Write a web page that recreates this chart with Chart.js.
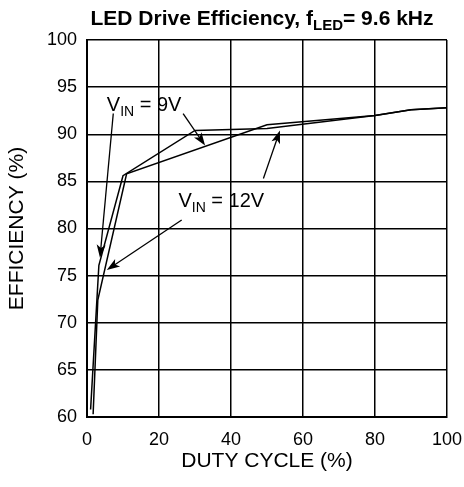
<!DOCTYPE html>
<html>
<head>
<meta charset="utf-8">
<script src="https://cdn.jsdelivr.net/npm/chart.js@4"></script>
<style>
  body { margin: 0; background: #fff; }
</style>
</head>
<body>
<canvas id="myChart" width="464" height="487"></canvas>
<script>
// Values
const dutyVin9 = [1, 3.3, 10, 30, 50, 80, 90, 100];
const effVin9 = [60.8, 76.1, 85.6, 90.4, 90.6, 92.0, 92.6, 92.8];
const dutyVin12 = [1.7, 3, 11, 50, 80, 90, 100];
const effVin12 = [60.3, 72.4, 85.8, 91.0, 92.0, 92.6, 92.8];

const xTicks = [0, 20, 40, 60, 80, 100];
const yTicks = [60, 65, 70, 75, 80, 85, 90, 95, 100];

// Callout labels and their arrows (in data units)
const labelVin9 = { x: 5.5, y: 92.5, value: '9V' };
const labelVin12 = { x: 25.4, y: 82.3, value: '12V' };
const arrowsVin9 = [[7.3, 92.2, 3.6, 76.9], [26.7, 92.2, 32.8, 88.8]];
const arrowsVin12 = [[26.3, 80.9, 5.5, 75.6], [49.0, 85.3, 53.6, 90.4]];

function toPoints(xs, ys) {
    return xs.map((x, i) => ({ x: x, y: ys[i] }));
}

// Draw "V" with subscript "IN" followed by " = ..."
function drawVin(ctx, x, y, value) {
    ctx.fillStyle = '#000';
    ctx.textBaseline = 'alphabetic';
    ctx.textAlign = 'left';
    ctx.font = '20px "Liberation Sans", Arial, sans-serif';
    ctx.fillText('V', x, y);
    let w = ctx.measureText('V').width;
    ctx.font = '14px "Liberation Sans", Arial, sans-serif';
    ctx.fillText('IN', x + w, y + 5);
    w += ctx.measureText('IN').width;
    ctx.font = '20px "Liberation Sans", Arial, sans-serif';
    ctx.fillText(' = ' + value, x + w, y);
}

function drawArrow(ctx, x1, y1, x2, y2) {
    const ang = Math.atan2(y2 - y1, x2 - x1);
    const len = 13, half = 4.5;
    ctx.strokeStyle = '#000';
    ctx.lineWidth = 1.3;
    ctx.beginPath();
    ctx.moveTo(x1, y1);
    ctx.lineTo(x2 - Math.cos(ang) * len * 0.7, y2 - Math.sin(ang) * len * 0.7);
    ctx.stroke();
    ctx.save();
    ctx.translate(x2, y2);
    ctx.rotate(ang);
    ctx.fillStyle = '#000';
    ctx.beginPath();
    ctx.moveTo(0, 0);
    ctx.lineTo(-len, -half);
    ctx.lineTo(-len * 0.75, 0);
    ctx.lineTo(-len, half);
    ctx.closePath();
    ctx.fill();
    ctx.restore();
}

const overlayPlugin = {
    id: 'overlay',
    afterDraw(chart) {
        const ctx = chart.ctx;
        const xs = chart.scales.x, ys = chart.scales.y;
        ctx.save();

        // title with subscript
        const big = 'bold 21px "Liberation Sans", Arial, sans-serif';
        const small = 'bold 15px "Liberation Sans", Arial, sans-serif';
        const partA = 'LED Drive Efficiency, f', partB = 'LED', partC = '= 9.6 kHz';
        ctx.font = big;
        const wA = ctx.measureText(partA).width, wC = ctx.measureText(partC).width;
        ctx.font = small;
        const wB = ctx.measureText(partB).width;
        let tx = 262 - (wA + wB + wC) / 2;
        const ty = 25;
        ctx.fillStyle = '#000';
        ctx.textAlign = 'left';
        ctx.textBaseline = 'alphabetic';
        ctx.font = big;
        ctx.fillText(partA, tx, ty);
        ctx.font = small;
        ctx.fillText(partB, tx + wA, ty + 5);
        ctx.font = big;
        ctx.fillText(partC, tx + wA + wB, ty);

        // callouts
        drawVin(ctx, xs.getPixelForValue(labelVin9.x), ys.getPixelForValue(labelVin9.y), labelVin9.value);
        drawVin(ctx, xs.getPixelForValue(labelVin12.x), ys.getPixelForValue(labelVin12.y), labelVin12.value);
        arrowsVin9.concat(arrowsVin12).forEach(a => {
            drawArrow(ctx, xs.getPixelForValue(a[0]), ys.getPixelForValue(a[1]),
                xs.getPixelForValue(a[2]), ys.getPixelForValue(a[3]));
        });
        ctx.restore();
    }
};

const tickFont = { family: '"Liberation Sans", Arial, sans-serif', size: 18 };
const titleFont = { family: '"Liberation Sans", Arial, sans-serif', size: 21 };

const ctx = document.getElementById('myChart').getContext('2d');
const chart = new Chart(ctx, {
    type: 'scatter',
    data: {
        datasets: [
            {
                label: 'VIN = 9V',
                data: toPoints(dutyVin9, effVin9),
                showLine: true,
                borderColor: '#000',
                borderWidth: 1.5,
                pointRadius: 0,
                tension: 0
            },
            {
                label: 'VIN = 12V',
                data: toPoints(dutyVin12, effVin12),
                showLine: true,
                borderColor: '#000',
                borderWidth: 1.5,
                pointRadius: 0,
                tension: 0
            }
        ]
    },
    options: {
        responsive: false,
        animation: false,
        layout: { padding: { top: 40, right: 17, left: 0, bottom: 0 } },
        plugins: {
            legend: { display: false },
            tooltip: { enabled: false },
            title: { display: false }
        },
        scales: {
            x: {
                type: 'linear',
                min: 0,
                max: 100,
                afterBuildTicks: scale => { scale.ticks = xTicks.map(v => ({ value: v })); },
                afterFit: scale => {
                    scale.height = 70;
                    scale.paddingRight = 0;
                    scale.paddingLeft = 0;
                },
                ticks: { color: '#000', font: tickFont, padding: 12, maxRotation: 0 },
                grid: { color: '#000', lineWidth: 1.5, drawTicks: false },
                border: { color: '#000', width: 2 },
                title: { display: true, text: 'DUTY CYCLE (%)', color: '#000', font: titleFont, padding: { top: 0, bottom: 13 } }
            },
            y: {
                min: 60,
                max: 100,
                afterBuildTicks: scale => { scale.ticks = yTicks.map(v => ({ value: v })); },
                afterFit: scale => {
                    scale.width = 87;
                    scale.paddingTop = 0;
                    scale.paddingBottom = 0;
                },
                ticks: { color: '#000', font: tickFont, padding: 10 },
                grid: { color: '#000', lineWidth: 1.5, drawTicks: false },
                border: { color: '#000', width: 2 },
                title: { display: true, text: 'EFFICIENCY (%)', color: '#000', font: titleFont, padding: { top: 5, bottom: 0 } }
            }
        }
    },
    plugins: [overlayPlugin]
});
</script>
</body>
</html>
